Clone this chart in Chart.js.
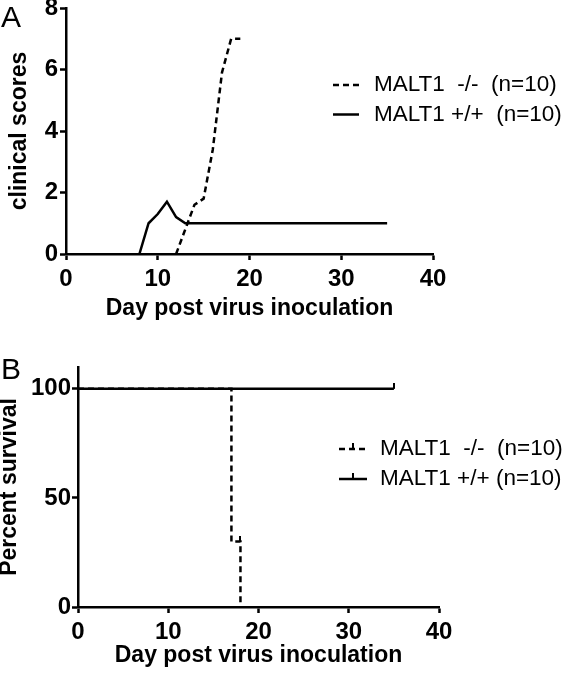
<!DOCTYPE html>
<html>
<head>
<meta charset="utf-8">
<script src="https://cdn.jsdelivr.net/npm/chart.js@4"></script>
<style>
  body { margin: 0; background: #fff; }
  #wrap { position: relative; width: 566px; height: 674px; font-family: "Liberation Sans", Arial, sans-serif; }
  .panel { position: absolute; left: 0; width: 566px; height: 337px; }
  .letter { position: absolute; left: 1px; font-size: 30px; line-height: 1; color: #000; }
</style>
</head>
<body>
<div id="wrap">
  <div class="panel" style="top:0"><canvas id="chartA" width="566" height="337"></canvas></div>
  <div class="panel" style="top:337px"><canvas id="chartB" width="566" height="337"></canvas></div>
  <div class="letter" style="top:2px">A</div>
  <div class="letter" style="top:354px">B</div>
</div>
<script>
const FONT = '"Liberation Sans", Arial, sans-serif';

// panel A - clinical scores (before onset both groups sit on the axis at 0)
const daysKoA = [12, 14, 15, 16, 17, 18, 19];
const scoresKo = [0, 1.6, 1.8, 3.4, 5.9, 7, 7];
const daysWtA = [8, 9, 10, 11, 12, 13, 35];
const scoresWt = [0, 1.0, 1.3, 1.7, 1.2, 1.0, 1.0];

// panel B - survival (censored points get a small tick)
const daysKoB = [0, 17, 18, 18];
const survivalKo = [100, 30, 30, 0];
const censorKo = [0, 0, 1, 0];
const daysWtB = [0, 35];
const survivalWt = [100, 100];
const censorWt = [0, 1];

const labelKo = 'MALT1  -/-  (n=10)';
const labelWtA = 'MALT1 +/+  (n=10)';
const labelWtB = 'MALT1 +/+ (n=10)';

const xTicks = [0, 10, 20, 30, 40];
const yTicksA = [0, 2, 4, 6, 8];
const yTicksB = [0, 50, 100];

const DASH = [6, 4];

function toPoints(xs, ys) {
  return xs.map((x, i) => ({ x: x, y: ys[i] }));
}

// little upward censor mark, used as point image
const tick = document.createElement('canvas');
tick.width = 2;
tick.height = 12;
const tctx = tick.getContext('2d');
tctx.fillStyle = '#000';
tctx.fillRect(0, 0, 2, 6);

// legend drawn at a fixed spot over the plot
const legendAt = {
  id: 'legendAt',
  afterDraw(chart, args, opts) {
    const ctx = chart.ctx;
    ctx.save();
    ctx.font = '22.5px ' + FONT;
    ctx.fillStyle = '#000';
    ctx.strokeStyle = '#000';
    ctx.lineWidth = 2.5;
    ctx.textBaseline = 'middle';
    chart.data.datasets.forEach((ds, i) => {
      const y = opts.y + i * opts.gap;
      ctx.setLineDash(ds.borderDash || []);
      ctx.beginPath();
      ctx.moveTo(opts.x, y);
      ctx.lineTo(opts.x + opts.len, y);
      ctx.stroke();
      if (opts.censor) ctx.drawImage(tick, opts.x + opts.len / 2 - 1, y - 6);
      ctx.fillText(ds.label, opts.textX, y);
    });
    ctx.restore();
  }
};

function scales(o) {
  const grid = { drawOnChartArea: false, drawTicks: true, tickLength: 6, tickWidth: 2.5, tickColor: '#000', color: '#000' };
  const border = { display: true, color: '#000', width: 2.5, z: 1 };
  const tickFont = { family: FONT, size: 24, weight: 'bold' };
  const titleFont = { family: FONT, size: 23, weight: 'bold', lineHeight: 1 };
  return {
    x: {
      type: 'linear', min: 0, max: 40,
      afterBuildTicks: s => { s.ticks = xTicks.map(v => ({ value: v })); },
      afterFit: s => { s.height = o.xHeight; s.paddingLeft = 0; s.paddingRight = 0; },
      ticks: { color: '#000', font: tickFont, padding: o.xTickPad, maxRotation: 0 },
      grid: grid,
      border: border,
      title: { display: true, text: 'Day post virus inoculation', color: '#000', font: titleFont, padding: { bottom: o.xTitlePad } }
    },
    y: {
      type: 'linear', min: 0, max: o.yMax,
      afterBuildTicks: s => { s.ticks = o.yTicks.map(v => ({ value: v })); },
      afterFit: s => { s.width = o.yWidth; s.paddingTop = 0; s.paddingBottom = 0; },
      ticks: { color: '#000', font: tickFont, padding: o.yTickPad },
      grid: grid,
      border: border,
      title: { display: true, text: o.yTitle, color: '#000', font: titleFont, padding: { top: o.yTitlePad } }
    }
  };
}

new Chart(document.getElementById('chartA'), {
  type: 'line',
  data: {
    datasets: [
      { label: labelKo, data: toPoints(daysKoA, scoresKo), borderColor: '#000', borderWidth: 2.5, borderDash: DASH, pointRadius: 0, tension: 0 },
      { label: labelWtA, data: toPoints(daysWtA, scoresWt), borderColor: '#000', borderWidth: 2.5, pointRadius: 0, tension: 0 }
    ]
  },
  options: {
    responsive: false,
    animation: false,
    devicePixelRatio: 1,
    layout: { padding: { top: 8, right: 133, left: 0, bottom: 0 } },
    plugins: {
      legend: { display: false },
      tooltip: { enabled: false },
      legendAt: { x: 333, len: 26, y: 85, gap: 29.5, textX: 374, censor: false }
    },
    scales: scales({ yMax: 8, yTicks: yTicksA, yTitle: 'clinical scores', yWidth: 66, xHeight: 83,
      xTickPad: 5, xTitlePad: 16.5, yTickPad: 2, yTitlePad: 8.5 })
  },
  plugins: [legendAt]
});

new Chart(document.getElementById('chartB'), {
  type: 'line',
  data: {
    datasets: [
      { label: labelKo, data: toPoints(daysKoB, survivalKo), borderColor: '#000', borderWidth: 2.5, borderDash: DASH,
        stepped: 'before', pointStyle: tick, pointRadius: censorKo.map(c => c ? 3 : 0) },
      { label: labelWtB, data: toPoints(daysWtB, survivalWt), borderColor: '#000', borderWidth: 2.5,
        stepped: 'before', pointStyle: tick, pointRadius: censorWt.map(c => c ? 3 : 0) }
    ]
  },
  options: {
    responsive: false,
    animation: false,
    devicePixelRatio: 1,
    layout: { padding: { top: 30, right: 127, left: 0, bottom: 0 } },
    plugins: {
      legend: { display: false },
      tooltip: { enabled: false },
      legendAt: { x: 339, len: 28, y: 112, gap: 30, textX: 380, censor: true }
    },
    scales: scales({ yMax: 110, yTicks: yTicksB, yTitle: 'Percent survival', yWidth: 78, xHeight: 67,
      xTickPad: 5, xTitlePad: 6.5, yTickPad: 1, yTitlePad: -1.5 })
  },
  plugins: [legendAt]
});
</script>
</body>
</html>
